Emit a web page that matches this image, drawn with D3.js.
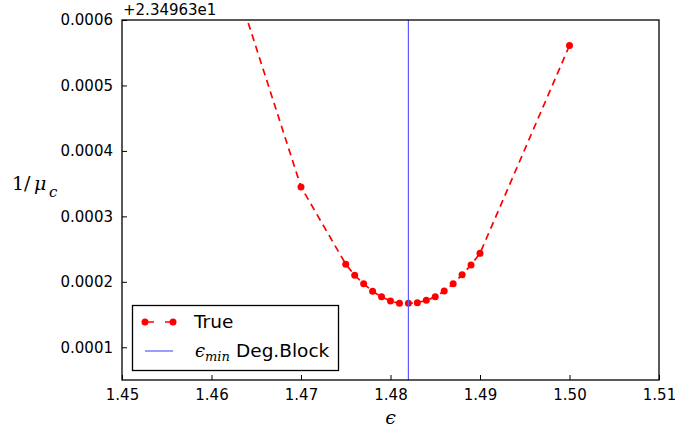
<!DOCTYPE html>
<html>
<head>
<meta charset="utf-8">
<script src="https://cdn.jsdelivr.net/npm/d3@7"></script>
<style>
  html, body { margin: 0; padding: 0; background: #fff; }
  svg { display: block; }
</style>
</head>
<body>
<svg id="chart" width="675" height="432"></svg>
<script>
// ---- data (values are relative to offset +2.34963e1) ----
const epsValues = [1.46, 1.47, 1.475, 1.476, 1.477, 1.478, 1.479, 1.480, 1.481, 1.482,
                   1.483, 1.484, 1.485, 1.486, 1.487, 1.488, 1.489, 1.490, 1.50];
const invMuValues = [0.00077, 0.000345, 0.000227, 0.000210, 0.000197, 0.0001855, 0.000177, 0.0001707, 0.0001671, 0.0001671,
                     0.0001681, 0.0001717, 0.000177, 0.0001859, 0.000197, 0.0002109, 0.0002257, 0.0002435, 0.000561];
const epsMin = 1.482;
const xTickValues = [1.45, 1.46, 1.47, 1.48, 1.49, 1.50, 1.51];
const yTickValues = [0.0001, 0.0002, 0.0003, 0.0004, 0.0005, 0.0006];
const offsetLabel = "+2.34963e1";
const legendLabels = ["True", "Deg.Block"];

// ---- layout ----
const svg = d3.select("#chart");
const m = { left: 122, right: 659, top: 20, bottom: 380 };
const x = d3.scaleLinear().domain([1.45, 1.51]).range([m.left, m.right]);
const y = d3.scaleLinear().domain([0.00005, 0.0006]).range([m.bottom, m.top]);
const tickFont = "DejaVu Sans, sans-serif";
const mathFont = "'DejaVu Serif', 'Liberation Serif', serif";

svg.append("defs").append("clipPath").attr("id", "plotclip")
  .append("rect").attr("x", m.left).attr("y", m.top)
  .attr("width", m.right - m.left).attr("height", m.bottom - m.top);

// axes (ticks inside)
const xAxis = d3.axisBottom(x).tickValues(xTickValues).tickFormat(d3.format(".2f"))
  .tickSizeInner(-5).tickSizeOuter(0).tickPadding(9);
const yAxis = d3.axisLeft(y).tickValues(yTickValues).tickFormat(d3.format(".4f"))
  .tickSizeInner(-5).tickSizeOuter(0).tickPadding(9);

const gx = svg.append("g").attr("transform", `translate(0,${m.bottom})`).call(xAxis);
const gy = svg.append("g").attr("transform", `translate(${m.left},0)`).call(yAxis);
[gx, gy].forEach(g => {
  g.select(".domain").remove();
  g.selectAll(".tick line").attr("stroke", "#000").attr("stroke-width", 1);
  g.selectAll(".tick text").attr("font-family", tickFont).attr("font-size", 15).attr("fill", "#000");
});

// lines
const plot = svg.append("g").attr("clip-path", "url(#plotclip)");
const pts = epsValues.map((e, i) => [e, invMuValues[i]]);
const line = d3.line().x(d => x(d[0])).y(d => y(d[1]));
plot.append("path").datum(pts).attr("d", line)
  .attr("fill", "none").attr("stroke", "#ff0000").attr("stroke-width", 1.7)
  .attr("stroke-dasharray", "7,5");
plot.selectAll("circle.pt").data(pts).enter().append("circle")
  .attr("class", "pt").attr("cx", d => x(d[0])).attr("cy", d => y(d[1]))
  .attr("r", 3.5).attr("fill", "#ff0000");
plot.append("line")
  .attr("x1", x(epsMin)).attr("x2", x(epsMin)).attr("y1", m.top).attr("y2", m.bottom)
  .attr("stroke", "#5a5aff").attr("stroke-width", 1.2);

// frame
svg.append("rect").attr("x", m.left).attr("y", m.top)
  .attr("width", m.right - m.left).attr("height", m.bottom - m.top)
  .attr("fill", "none").attr("stroke", "#000").attr("stroke-width", 1.3);

// offset text
svg.append("text").attr("x", m.left + 1).attr("y", 15)
  .attr("font-family", tickFont).attr("font-size", 15).text(offsetLabel);

// axis labels
const yl = svg.append("text").attr("font-family", mathFont).attr("font-size", 19);
yl.append("tspan").attr("x", 12).attr("y", 190).text("1");
yl.append("tspan").attr("x", 24).attr("y", 190).text("/");
yl.append("tspan").attr("x", 34).attr("y", 190).attr("font-style", "italic").text("μ");
yl.append("tspan").attr("x", 49).attr("y", 197).attr("font-style", "italic").attr("font-size", 15).text("c");

svg.append("text").attr("x", x(1.48)).attr("y", 424).attr("text-anchor", "middle")
  .attr("font-family", mathFont).attr("font-size", 19).attr("font-style", "italic").text("ϵ");

// legend
const lg = svg.append("g");
lg.append("rect").attr("x", 132.5).attr("y", 305.5).attr("width", 206).attr("height", 65)
  .attr("fill", "#fff").attr("stroke", "#000").attr("stroke-width", 1.3);
lg.append("line").attr("x1", 145).attr("x2", 174).attr("y1", 322).attr("y2", 322)
  .attr("stroke", "#ff0000").attr("stroke-width", 1.7).attr("stroke-dasharray", "9,11");
[145, 173].forEach(cx => lg.append("circle").attr("cx", cx).attr("cy", 322).attr("r", 3.5).attr("fill", "#ff0000"));
lg.append("text").attr("x", 194).attr("y", 328).attr("font-family", tickFont).attr("font-size", 18.5).text(legendLabels[0]);
lg.append("line").attr("x1", 145).attr("x2", 173).attr("y1", 351).attr("y2", 351)
  .attr("stroke", "#5a5aff").attr("stroke-width", 1.2);
const t2 = lg.append("g");
t2.append("text").attr("x", 195).attr("y", 357).attr("font-family", mathFont)
  .attr("font-style", "italic").attr("font-size", 18).text("ϵ");
t2.append("text").attr("x", 205).attr("y", 361).attr("font-family", mathFont)
  .attr("font-style", "italic").attr("font-size", 13).text("min");
t2.append("text").attr("x", 236).attr("y", 357).attr("font-family", tickFont)
  .attr("font-size", 18.5).text(legendLabels[1]);
</script>
</body>
</html>
